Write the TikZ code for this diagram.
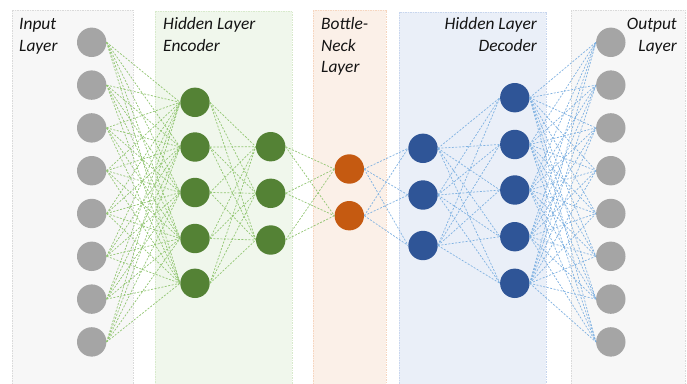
\documentclass[tikz,border=0pt]{standalone}
\usepackage{fontspec}
\newfontfamily\lblfont{Carlito}
\definecolor{ngray}{HTML}{A5A5A5}
\definecolor{ngreen}{HTML}{548235}
\definecolor{norange}{HTML}{C55A11}
\definecolor{nblue}{HTML}{2F5597}
\definecolor{pgray}{HTML}{F7F7F7}
\definecolor{pgreen}{HTML}{F0F7EC}
\definecolor{porange}{HTML}{FBF0E8}
\definecolor{pblue}{HTML}{EAEFF8}
\definecolor{bgray}{HTML}{DADADA}
\definecolor{bgreen}{HTML}{D8EACC}
\definecolor{borange}{HTML}{F6D6C0}
\definecolor{bblue}{HTML}{C8D6EE}
\definecolor{egreen}{HTML}{92C672}
\definecolor{eblue}{HTML}{80B2E2}
\tikzset{
  panel/.style={line width=0.45pt, dash pattern=on 1.5pt off 1pt},
  neuron/.style={circle, minimum size=29.4pt, inner sep=0pt, draw=none},
  gedge/.style={egreen, line width=0.7pt, dash pattern=on 2pt off 1.5pt},
  bedge/.style={eblue, line width=0.7pt, dash pattern=on 2pt off 1.5pt},
  lbl/.style={inner sep=0pt, font=\lblfont\itshape\fontsize{17.4}{20}\selectfont, text=black!92}
}
\begin{document}
\begin{tikzpicture}[x=1pt,y=-1pt]
\clip (0,0) rectangle (687,383);
\fill[white] (0,0) rectangle (687,383);

% layer panels
\draw[panel, fill=pgray, draw=bgray] (12,10) rectangle (133,395);
\draw[panel, fill=pgreen, draw=bgreen] (155,11) rectangle (292,395);
\draw[panel, fill=porange, draw=borange] (313,10) rectangle (386,395);
\draw[panel, fill=pblue, draw=bblue] (399,12) rectangle (546,395);
\draw[panel, fill=pgray, draw=bgray] (571,10) rectangle (685,395);

% panel titles
\node[lbl, anchor=base west] (tin1) at (19,29.5) {Input};
\node[lbl, anchor=base west] (tin2) at (19,51.2) {Layer};
\node[lbl, anchor=base west] (ten1) at (163,29.5) {Hidden Layer};
\node[lbl, anchor=base west] (ten2) at (163,51.2) {Encoder};
\node[lbl, anchor=base west] (tbn1) at (321,29.5) {Bottle-};
\node[lbl, anchor=base west] (tbn2) at (321,51.2) {Neck};
\node[lbl, anchor=base west] (tbn3) at (321,72.9) {Layer};
\node[lbl, anchor=base east] (tde1) at (537,29.5) {Hidden Layer};
\node[lbl, anchor=base east] (tde2) at (537,51.2) {Decoder};
\node[lbl, anchor=base east] (tout1) at (677,29.5) {Output};
\node[lbl, anchor=base east] (tout2) at (677,51.2) {Layer};

% neurons
\foreach \i/\y in {1/42.3,2/85.1,3/127.9,4/170.7,5/213.5,6/256.3,7/299.1,8/341.9}
  \node[neuron, fill=ngray] (in\i) at (91.7,\y) {};
\foreach \i/\y in {1/102.3,2/147,3/192.5,4/238.5,5/283.3}
  \node[neuron, fill=ngreen] (ea\i) at (195,\y) {};
\foreach \i/\y in {1/146.7,2/193.3,3/240}
  \node[neuron, fill=ngreen] (eb\i) at (270.7,\y) {};
\foreach \i/\y in {1/169,2/215.7}
  \node[neuron, fill=norange] (bn\i) at (349.3,\y) {};
\foreach \i/\y in {1/148.3,2/195,3/245.5}
  \node[neuron, fill=nblue] (da\i) at (423,\y) {};
\foreach \i/\y in {1/97.7,2/144.5,3/190,4/236.7,5/283.3}
  \node[neuron, fill=nblue] (db\i) at (514.8,\y) {};
\foreach \i/\y in {1/42.3,2/85.1,3/127.9,4/170.7,5/213.5,6/256.3,7/299.1,8/341.9}
  \node[neuron, fill=ngray] (out\i) at (610.8,\y) {};

% connections
\foreach \i in {1,...,8} \foreach \j in {1,...,5}
  \draw[gedge] (in\i.east) -- (ea\j.west);
\foreach \i in {1,...,5} \foreach \j in {1,...,3}
  \draw[gedge] (ea\i.east) -- (eb\j.west);
\foreach \i in {1,...,3} \foreach \j in {1,2}
  \draw[gedge] (eb\i.east) -- (bn\j.west);
\foreach \i in {1,2} \foreach \j in {1,...,3}
  \draw[bedge] (bn\i.east) -- (da\j.west);
\foreach \i in {1,...,3} \foreach \j in {1,...,5}
  \draw[bedge] (da\i.east) -- (db\j.west);
\foreach \i in {1,...,5} \foreach \j in {1,...,8}
  \draw[bedge] (db\i.east) -- (out\j.west);
\end{tikzpicture}
\end{document}
